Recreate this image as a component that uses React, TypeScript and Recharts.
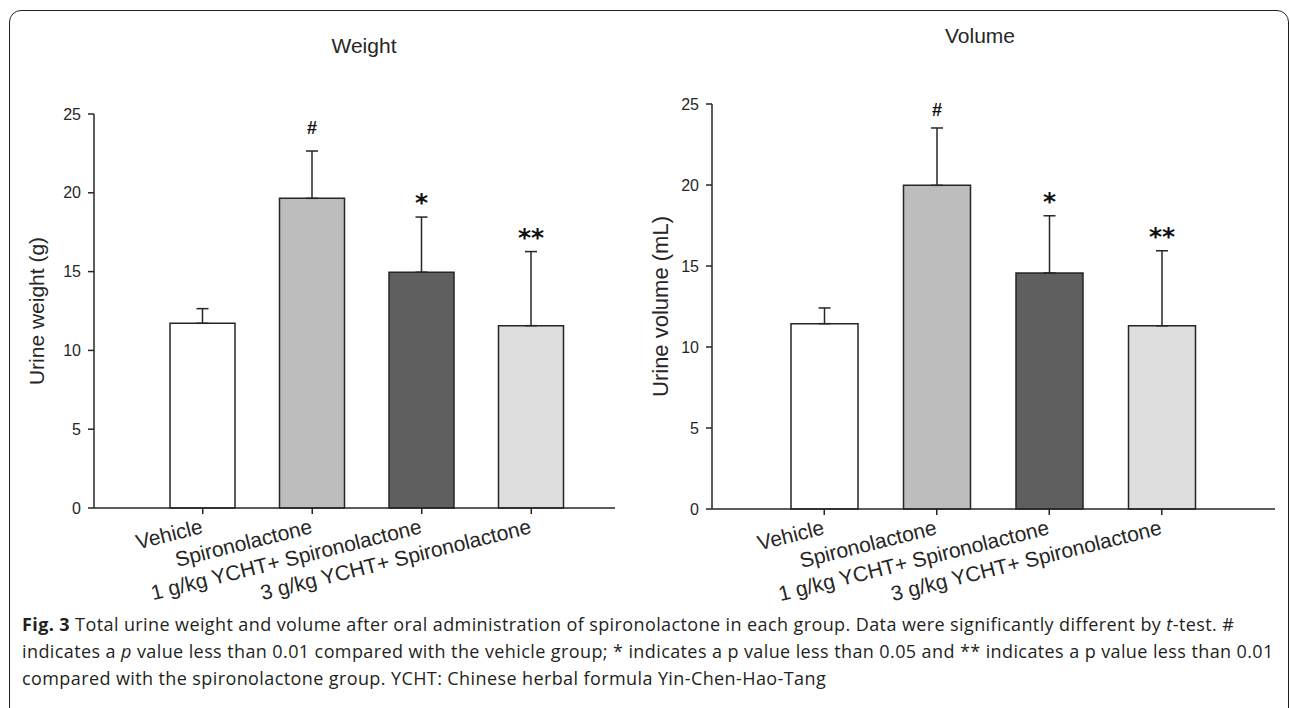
import React from "react";
import { Bar, BarChart, Cell, ErrorBar, XAxis, YAxis } from "recharts";

const groups = [
  "Vehicle",
  "Spironolactone",
  "1 g/kg YCHT+ Spironolactone",
  "3 g/kg YCHT+ Spironolactone",
];
const barColors = ["#ffffff", "#bdbdbd", "#5f5f5f", "#dedede"];
const marks = ["", "#", "*", "**"];

const weightMean = [11.72, 19.65, 14.96, 11.57];
const weightSd = [0.93, 3.0, 3.5, 4.7];
const volumeMean = [11.44, 19.98, 14.57, 11.31];
const volumeSd = [0.97, 3.54, 3.53, 4.63];

const yTicks = [0, 5, 10, 15, 20, 25];

const INK = "#262626";
const SANS = "'Liberation Sans', Arial, sans-serif";

function buildRows(means: number[], sds: number[]) {
  return groups.map((g, i) => ({ group: g, mean: means[i], err: [0, sds[i]] }));
}

function GroupTick({ x, y, payload }: any) {
  const tx = x + 1;
  const ty = y + 17;
  return (
    <text
      x={tx}
      y={ty}
      textAnchor="end"
      transform={`rotate(-14, ${tx}, ${ty})`}
      fontSize={21}
      fill={INK}
      fontFamily={SANS}
    >
      {payload.value}
    </text>
  );
}

interface ChartProps {
  left: number;
  width: number;
  top: number;
  rightMargin: number;
  leftMargin: number;
  axisHeight: number;
  means: number[];
  sds: number[];
  yLabel: string;
  yLabelDx: number;
  yLabelSize: number;
  padLeft: number;
  padRight: number;
  barSize: number;
  hashGap: number;
}

function UrineChart(p: ChartProps) {
  const data = buildRows(p.means, p.sds);

  // significance marks sit above the error bar cap
  const renderMark = (props: any) => {
    const { index } = props;
    const mark = marks[index];
    if (!mark) return null;
    const x = Number(props.x);
    const y = Number(props.y);
    const w = Number(props.width);
    const h = Number(props.height);
    const errTop = y - (p.sds[index] * h) / p.means[index];
    const isHash = mark === "#";
    return (
      <text
        key={`mark-${index}`}
        x={x + w / 2}
        y={errTop - (isHash ? p.hashGap : 6)}
        textAnchor="middle"
        fontSize={isHash ? 18 : 25}
        fontWeight="bold"
        fill="#111"
        fontFamily={isHash ? SANS : "'DejaVu Sans', sans-serif"}
      >
        {mark}
      </text>
    );
  };

  const renderYLabel = (props: any) => {
    const vb = props.viewBox;
    const cx = vb.x + p.yLabelDx;
    const cy = vb.y + vb.height / 2;
    return (
      <text
        x={cx}
        y={cy}
        textAnchor="middle"
        transform={`rotate(-90, ${cx}, ${cy})`}
        fontSize={p.yLabelSize}
        fill={INK}
        fontFamily={SANS}
      >
        {p.yLabel}
      </text>
    );
  };

  return (
    <div style={{ position: "absolute", left: p.left, top: 0 }}>
      <BarChart
        width={p.width}
        height={640}
        data={data}
        margin={{ top: p.top, right: p.rightMargin, left: p.leftMargin, bottom: 0 }}
      >
        <XAxis
          dataKey="group"
          height={p.axisHeight}
          interval={0}
          padding={{ left: p.padLeft, right: p.padRight }}
          stroke={INK}
          strokeWidth={1.5}
          tickSize={6}
          tick={<GroupTick />}
        />
        <YAxis
          width={60}
          domain={[0, 25]}
          ticks={yTicks}
          stroke={INK}
          strokeWidth={1.5}
          tickSize={6}
          tickMargin={7}
          tick={{ fill: INK, fontSize: 16, fontFamily: SANS }}
          label={renderYLabel}
        />
        <Bar
          dataKey="mean"
          barSize={p.barSize}
          stroke={INK}
          strokeWidth={1.5}
          isAnimationActive={false}
          label={renderMark}
        >
          {data.map((d, i) => (
            <Cell key={d.group} fill={barColors[i]} />
          ))}
          <ErrorBar
            dataKey="err"
            direction="y"
            width={6}
            stroke={INK}
            strokeWidth={1.5}
            isAnimationActive={false}
          />
        </Bar>
      </BarChart>
    </div>
  );
}

export default function App() {
  return (
    <div
      style={{
        position: "fixed",
        left: 0,
        top: 0,
        width: 1290,
        height: 708,
        overflow: "hidden",
        background: "#fff",
      }}
    >
      <div
        style={{
          position: "absolute",
          left: 9,
          top: 10,
          width: 1278,
          height: 740,
          border: "1.5px solid #222",
          borderRadius: 12,
        }}
      />
      <svg
        width={1290}
        height={80}
        style={{ position: "absolute", left: 0, top: 0 }}
      >
        <text x={364} y={53} textAnchor="middle" fontSize={21} fill={INK} fontFamily={SANS}>
          Weight
        </text>
        <text x={980} y={43} textAnchor="middle" fontSize={21} fill={INK} fontFamily={SANS}>
          Volume
        </text>
      </svg>

      <UrineChart
        left={0}
        width={640}
        top={114}
        rightMargin={25}
        leftMargin={34}
        axisHeight={132}
        means={weightMean}
        sds={weightSd}
        yLabel="Urine weight (g)"
        yLabelDx={10}
        yLabelSize={21}
        padLeft={54}
        padRight={29}
        barSize={65}
        hashGap={17}
      />
      <UrineChart
        left={640}
        width={650}
        top={104}
        rightMargin={15}
        leftMargin={12}
        axisHeight={131}
        means={volumeMean}
        sds={volumeSd}
        yLabel="Urine volume (mL)"
        yLabelDx={16}
        yLabelSize={22}
        padLeft={56}
        padRight={57}
        barSize={67}
        hashGap={12}
      />

      <div
        style={{
          position: "absolute",
          left: 22,
          top: 611,
          fontFamily: "'Open Sans', sans-serif",
          fontSize: 18,
          letterSpacing: "0.4px",
          lineHeight: "27px",
          color: "#231f20",
          whiteSpace: "nowrap",
        }}
      >
        <div>
          <b>Fig. 3</b> Total urine weight and volume after oral administration of spironolactone in
          each group. Data were significantly different by <i>t</i>-test. #
        </div>
        <div>
          indicates a <i>p</i> value less than 0.01 compared with the vehicle group; * indicates a p
          value less than 0.05 and ** indicates a p value less than 0.01
        </div>
        <div>
          compared with the spironolactone group. YCHT: Chinese herbal formula Yin-Chen-Hao-Tang
        </div>
      </div>
    </div>
  );
}
